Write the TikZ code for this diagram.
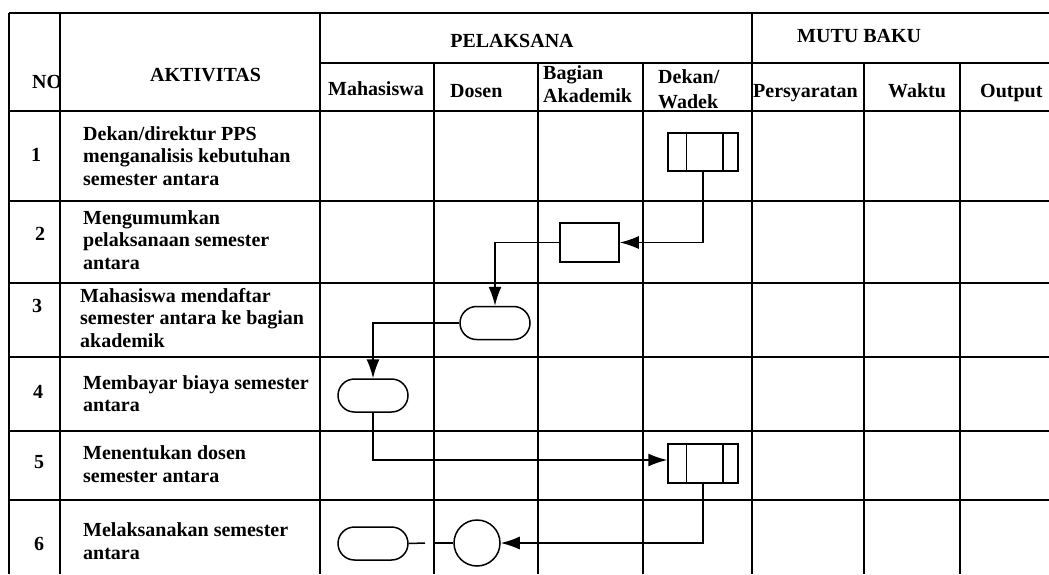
\documentclass[tikz,border=0pt]{standalone}
\usepackage{fontspec}
\setmainfont{Liberation Serif}
\usetikzlibrary{arrows.meta}
\tikzset{
  grid/.style={line width=1.8pt},
  shp/.style={draw, line width=1.5pt, inner sep=0pt},
  txt/.style={inner sep=0pt, anchor=base west, align=left, font=\bfseries\fontsize{20}{22.5}\selectfont},
  num/.style={inner sep=0pt, anchor=base, font=\bfseries\fontsize{20}{22}\selectfont},
  conn/.style={line width=1.5pt},
  arr/.style={line width=1.5pt, -{Latex[length=19pt,width=13pt]}},
  termbox/.style={shp, rounded corners=16.5pt, minimum width=70pt, minimum height=33pt},
  procbox/.style={shp, minimum width=59pt, minimum height=39pt},
  prebox/.style={shp, minimum width=70pt, minimum height=38pt},
  circbox/.style={shp, circle, minimum size=46pt}
}
\newcommand{\innerbars}[1]{%
  \draw[line width=1.5pt] ([xshift=19pt]#1.north west) -- ([xshift=19pt]#1.south west);
  \draw[line width=1.5pt] ([xshift=-16pt]#1.north east) -- ([xshift=-16pt]#1.south east);}
\begin{document}
\begin{tikzpicture}[x=1pt,y=-1pt]
\useasboundingbox (0,0) rectangle (1049,574);
\fill[white] (0,0) rectangle (1049,574);
% table grid
\draw[grid] (9,13) -- (1049,13);
\draw[grid] (320,63) -- (1049,63);
\foreach \yy in {111,201,283,357,431,500} \draw[grid] (9,\yy) -- (1049,\yy);
\foreach \xx in {9,60,320,752} \draw[grid] (\xx,13) -- (\xx,574);
\foreach \xx in {434,538,643,864,960} \draw[grid] (\xx,63) -- (\xx,574);
% header texts (base anchor = last line's baseline)
\node[txt] (hno) at (32,88) {NO};
\node[txt] (hakt) at (150,81) {AKTIVITAS};
\node[num] (hpel) at (512,47) {PELAKSANA};
\node[txt] (hmutu) at (797,42) {MUTU BAKU};
\node[txt] (hmhs) at (328,95) {Mahasiswa};
\node[txt] (hdos) at (450,97) {Dosen};
\node[txt] (hbag) at (543,102) {Bagian\\Akademik};
\node[txt] (hdek) at (658,108) {Dekan/\\[2.5pt]Wadek};
\node[txt] (hper) at (753,97) {Persyaratan};
\node[txt] (hwak) at (888,97) {Waktu};
\node[txt] (hout) at (980,97) {Output};
% row numbers
\node[num] (n1) at (36,161) {1};
\node[num] (n2) at (40,240) {2};
\node[num] (n3) at (37,312) {3};
\node[num] (n4) at (38,398) {4};
\node[num] (n5) at (39,468) {5};
\node[num] (n6) at (39,550) {6};
% activities
\node[txt] (a1) at (83,185) {Dekan/direktur PPS\\menganalisis kebutuhan\\semester antara};
\node[txt] (a2) at (83,269) {Mengumumkan\\pelaksanaan semester\\antara};
\node[txt] (a3) at (80,347) {Mahasiswa mendaftar\\semester antara ke bagian\\akademik};
\node[txt] (a4) at (83,411.5) {Membayar biaya semester\\antara};
\node[txt] (a5) at (83,482) {Menentukan dosen\\semester antara};
\node[txt] (a6) at (83,559) {Melaksanakan semester\\antara};
% flow shapes
\node[prebox] (p1) at (703,152) {};
\innerbars{p1}
\node[procbox] (r2) at (589.5,242.5) {};
\node[termbox] (t3) at (495,323) {};
\node[termbox] (t4) at (373,395.5) {};
\node[prebox, minimum height=39pt] (p5) at (703,463.5) {};
\innerbars{p5}
\node[circbox] (c6) at (477,543) {};
\node[termbox] (t6) at (373,543.5) {};
\coordinate (g1) at (425,543);
\coordinate (g2) at (435,543);
% connectors
\draw[arr] (p1.south) |- (r2.east);
\draw[arr] (r2.west) -| (t3.north);
\draw[arr] (t3.west) -| (t4.north);
\draw[arr] (t4.south) |- ([yshift=3.5pt]p5.west);
\draw[arr] (p5.south) |- (c6.east);
\draw[conn] (t6.east) -- (g1);
\draw[conn] (g2) -- (c6.west);
\end{tikzpicture}
\end{document}
